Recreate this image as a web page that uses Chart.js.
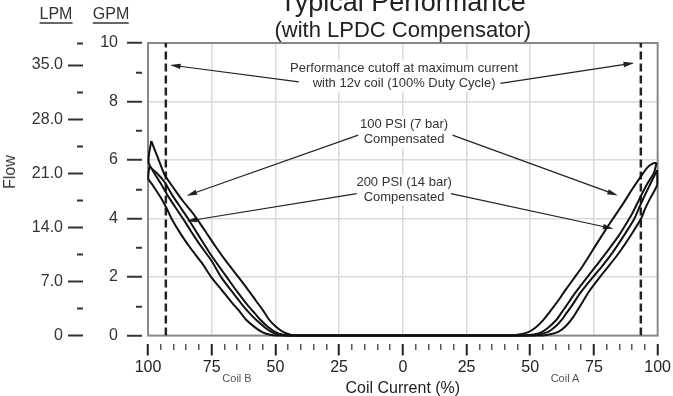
<!DOCTYPE html>
<html>
<head>
<meta charset="utf-8">
<script src="https://cdn.jsdelivr.net/npm/chart.js@4.4.1/dist/chart.umd.min.js"></script>
<style>
  html, body { margin: 0; padding: 0; background: #fff; }
  #frame { position: relative; width: 673px; height: 396px; overflow: hidden; font-family: Arial, "Liberation Sans", Helvetica, sans-serif; }
  #plot { position: absolute; left: 0; top: -20px; width: 673px; height: 416px; }
  .lbl { position: absolute; color: #333; white-space: nowrap; transform: translateX(-50%); }
  .unit { font-size: 16px; top: 6px; line-height: 16px; border-bottom: 2px solid #666; }
  .coil { font-size: 11px; line-height: 12px; color: #555; top: 372px; }
  #flow { font-size: 16px; line-height: 16px; left: 10px; top: 172px; transform: translate(-50%, -50%) rotate(-90deg); }
</style>
</head>
<body>
<div id="frame">
  <div id="plot"><canvas id="chart"></canvas></div>
  <span class="lbl unit" style="left: 56px;">LPM</span>
  <span class="lbl unit" style="left: 111px;">GPM</span>
  <span class="lbl" id="flow">Flow</span>
  <span class="lbl coil" style="left: 237px;">Coil B</span>
  <span class="lbl coil" style="left: 565px;">Coil A</span>
</div>
<script>
// axis ticks
const gpmMajor = [0, 2, 4, 6, 8, 10];
const gpmMinor = [1, 3, 5, 7, 9];
const lpmMajor = [0, 7, 14, 21, 28, 35];
const lpmMinor = [3.5, 10.5, 17.5, 24.5, 31.5, 37.8];
const currentMajor = [-100, -75, -50, -25, 0, 25, 50, 75, 100];
const currentMinor = [];
for (let v = -95; v < 100; v += 5) {
    if (!currentMajor.includes(v)) currentMinor.push(v);
}
const LPM_PER_GPM = 3.7854;

// max current at 12v coil, 100% duty cycle
const cutoffCurrent = [-93, 93.4];

// Coil B side (left), [current %, GPM]
const coilB100Upper = [[-98.7, 6.65], [-96, 6.05], [-93.5, 5.5], [-90, 5.05], [-86.3, 4.6], [-83, 4.25], [-80.4, 3.94], [-77, 3.5], [-73.3, 3.02], [-69, 2.5], [-64.5, 2.0], [-60, 1.48], [-57.7, 1.2], [-55, 0.88], [-52.5, 0.55], [-50, 0.32], [-47, 0.13], [-44, 0.03], [-41, 0]];
const coilB100Lower = [[-98.7, 6.65], [-99.6, 6.2], [-99.7, 5.9], [-98, 5.62], [-95, 5.2], [-92, 4.75], [-89, 4.35], [-86.3, 4.0], [-83, 3.55], [-80, 3.15], [-75, 2.55], [-71.3, 2.0], [-67, 1.5], [-63, 1.05], [-60, 0.75], [-57.7, 0.55], [-54, 0.27], [-51, 0.1], [-48, 0.02], [-45, 0]];
const coilB200Upper = [[-99.5, 5.77], [-96.5, 5.55], [-93.5, 5.25], [-90.5, 4.8], [-87, 4.35], [-84.3, 4.0], [-80, 3.4], [-76, 2.85], [-72, 2.35], [-69.1, 2.0], [-65, 1.5], [-61, 1.05], [-58, 0.75], [-56, 0.55], [-53, 0.3], [-50, 0.12], [-47, 0.03], [-43, 0]];
const coilB200Lower = [[-99.5, 5.77], [-99.9, 5.37], [-98, 5.12], [-95, 4.72], [-92.5, 4.32], [-90.8, 4.0], [-87, 3.45], [-83, 2.95], [-79, 2.5], [-75.2, 2.0], [-71, 1.55], [-67, 1.12], [-64, 0.82], [-61.6, 0.55], [-58, 0.28], [-55, 0.11], [-52, 0.03], [-48, 0]];

// Coil A side (right)
const coilA100Upper = [[99.6, 5.9], [98, 5.88], [96, 5.75], [93.5, 5.45], [90, 5.0], [86, 4.45], [82.5, 4.0], [78, 3.4], [74, 2.85], [70, 2.3], [67.5, 2.0], [64, 1.58], [61, 1.2], [58, 0.85], [55, 0.52], [52, 0.27], [49, 0.11], [45, 0.03], [40, 0]];
const coilA100Lower = [[99.6, 5.9], [98.5, 5.55], [96, 5.2], [93, 4.7], [90.5, 4.25], [88.9, 4.0], [85, 3.45], [80, 2.85], [76, 2.4], [72.4, 2.0], [68, 1.5], [64, 1.0], [62, 0.75], [60.4, 0.55], [57, 0.27], [54, 0.1], [50, 0.02], [46, 0]];
const coilA200Upper = [[99.8, 5.65], [97.5, 5.25], [95, 4.8], [93, 4.42], [90.9, 4.0], [87, 3.45], [82, 2.8], [78, 2.35], [74.6, 2.0], [70, 1.5], [66, 0.98], [64, 0.74], [62.9, 0.6], [60, 0.32], [57, 0.13], [53, 0.03], [49, 0]];
const coilA200Lower = [[99.8, 5.65], [99.8, 5.15], [97, 4.68], [95, 4.32], [93.5, 4.0], [90, 3.5], [85, 2.85], [81, 2.4], [77.3, 2.0], [73, 1.5], [69.5, 1.0], [67, 0.65], [64, 0.33], [61, 0.13], [57, 0.03], [53, 0]];

// callouts (positions in data units)
const notes = [
    { lines: ['Performance cutoff at maximum current', 'with 12v coil (100% Duty Cycle)'], x: 0.5, y: [9.13, 8.62] },
    { lines: ['100 PSI (7 bar)', 'Compensated'], x: 0.5, y: [7.23, 6.70] },
    { lines: ['200 PSI (14 bar)', 'Compensated'], x: 0.5, y: [5.22, 4.72] }
];
const arrows = [
    { from: [-40.8, 8.67], to: [-91.4, 9.25] },
    { from: [38.3, 8.62], to: [90.8, 9.32] },
    { from: [-17.5, 6.85], to: [-84.9, 4.78] },
    { from: [19.5, 6.85], to: [84.4, 4.79] },
    { from: [-18.1, 4.85], to: [-84.9, 3.91] },
    { from: [18.9, 4.85], to: [82.7, 3.65] }
];

const FONT = 'Arial, "Liberation Sans", Helvetica, sans-serif';
Chart.defaults.font.family = FONT;
Chart.defaults.color = '#222';

const near = (a, list) => list.some(v => Math.abs(v - a) < 1e-6);
const joinSides = (left, right) => [...left, ...right.slice().reverse()].map(([x, y]) => ({ x, y }));
const setTicks = (major, minor) => (scale) => {
    scale.ticks = [...major, ...minor].sort((a, b) => a - b).map(v => ({ value: v }));
};

const curve = (label, pts) => ({
    label,
    data: pts,
    borderColor: '#111',
    borderWidth: 2,
    pointRadius: 0,
    tension: 0.2,
    fill: false,
    clip: false
});

const cutoffLine = (x) => ({
    label: 'cutoff',
    data: [{ x, y: 0 }, { x, y: 10 }],
    borderColor: '#222',
    borderWidth: 2.5,
    borderDash: [8, 4],
    pointRadius: 0,
    fill: false
});

// frame + callouts under the curves
const callouts = {
    id: 'callouts',
    beforeDatasetsDraw(chart) {
        const { ctx, chartArea: a, scales: { x, y } } = chart;
        ctx.save();
        ctx.strokeStyle = '#888';
        ctx.lineWidth = 2;
        ctx.strokeRect(a.left, a.top, a.right - a.left, a.bottom - a.top);

        ctx.font = '13px ' + FONT;
        ctx.textAlign = 'center';
        ctx.textBaseline = 'middle';
        notes.forEach(n => {
            const cx = x.getPixelForValue(n.x);
            n.lines.forEach((t, i) => {
                const cy = y.getPixelForValue(n.y[i]);
                const w = ctx.measureText(t).width;
                ctx.fillStyle = '#fff';
                ctx.fillRect(cx - w / 2 - 3, cy - 8, w + 6, 16);
                ctx.fillStyle = '#333';
                ctx.fillText(t, cx, cy);
            });
        });

        ctx.strokeStyle = '#222';
        ctx.fillStyle = '#222';
        ctx.lineWidth = 1.2;
        arrows.forEach(ar => {
            const x1 = x.getPixelForValue(ar.from[0]), y1 = y.getPixelForValue(ar.from[1]);
            const x2 = x.getPixelForValue(ar.to[0]), y2 = y.getPixelForValue(ar.to[1]);
            const ang = Math.atan2(y2 - y1, x2 - x1);
            const len = 11, spread = 0.25;
            ctx.beginPath();
            ctx.moveTo(x1, y1);
            ctx.lineTo(x2 - Math.cos(ang) * 6, y2 - Math.sin(ang) * 6);
            ctx.stroke();
            ctx.beginPath();
            ctx.moveTo(x2, y2);
            ctx.lineTo(x2 - len * Math.cos(ang - spread), y2 - len * Math.sin(ang - spread));
            ctx.lineTo(x2 - len * Math.cos(ang + spread), y2 - len * Math.sin(ang + spread));
            ctx.closePath();
            ctx.fill();
        });
        ctx.restore();
    }
};

new Chart(document.getElementById('chart'), {
    type: 'line',
    data: {
        datasets: [
            curve('100 PSI upper', joinSides(coilB100Upper, coilA100Upper)),
            curve('100 PSI lower', joinSides(coilB100Lower, coilA100Lower)),
            curve('200 PSI upper', joinSides(coilB200Upper, coilA200Upper)),
            curve('200 PSI lower', joinSides(coilB200Lower, coilA200Lower)),
            cutoffLine(cutoffCurrent[0]),
            cutoffLine(cutoffCurrent[1])
        ]
    },
    options: {
        responsive: true,
        maintainAspectRatio: false,
        animation: false,
        events: [],
        layout: { autoPadding: false, padding: { left: 0, right: 11, top: 0, bottom: -2 } },
        plugins: {
            legend: { display: false },
            tooltip: { enabled: false },
            title: {
                display: true,
                fullSize: false,
                text: 'Typical Performance',
                color: '#222',
                font: { size: 27, weight: 'normal', lineHeight: 0.9 },
                padding: { top: 11, bottom: 0 }
            },
            subtitle: {
                display: true,
                fullSize: false,
                text: '(with LPDC Compensator)',
                color: '#222',
                font: { size: 22, weight: 'normal', lineHeight: 1 },
                padding: { top: 4.5, bottom: 1.2 }
            }
        },
        scales: {
            x: {
                type: 'linear',
                min: -100,
                max: 100,
                afterBuildTicks: setTicks(currentMajor, currentMinor),
                border: { display: false },
                grid: {
                    tickLength: 20,
                    color: c => (near(c.tick.value, currentMajor) && Math.abs(c.tick.value) < 100) ? '#dadada' : 'rgba(0,0,0,0)',
                    lineWidth: 1.5,
                    tickColor: c => near(c.tick.value, currentMajor) ? '#222' : '#555',
                    tickWidth: c => near(c.tick.value, currentMajor) ? 2 : 1.5,
                    tickBorderDash: c => near(c.tick.value, currentMajor) ? [0, 8, 12, 100] : [0, 8, 6, 100]
                },
                ticks: {
                    autoSkip: false,
                    maxRotation: 0,
                    padding: 2,
                    color: '#222',
                    font: { size: 16 },
                    callback: v => near(v, currentMajor) ? String(Math.abs(v)) : ''
                },
                title: {
                    display: true,
                    text: 'Coil Current (%)',
                    color: '#222',
                    font: { size: 16 },
                    padding: { top: 0, bottom: 0 }
                }
            },
            y: {
                type: 'linear',
                position: 'left',
                weight: 0,
                min: 0,
                max: 10,
                afterBuildTicks: setTicks(gpmMajor, gpmMinor),
                afterFit: s => { s.width = 62; },
                border: { display: false },
                grid: {
                    tickLength: 21,
                    color: c => (near(c.tick.value, gpmMajor) && c.tick.value > 0 && c.tick.value < 10) ? '#dadada' : 'rgba(0,0,0,0)',
                    lineWidth: 1.5,
                    tickColor: '#333',
                    tickWidth: 2,
                    tickBorderDash: c => near(c.tick.value, gpmMajor) ? [15, 100] : [0, 9, 6, 100]
                },
                ticks: {
                    autoSkip: false,
                    padding: 9,
                    color: '#333',
                    font: { size: 16 },
                    callback: v => near(v, gpmMajor) ? String(v) : ''
                }
            },
            lpm: {
                type: 'linear',
                position: 'left',
                weight: 1,
                min: 0,
                max: 10 * LPM_PER_GPM,
                afterBuildTicks: setTicks(lpmMajor, lpmMinor),
                afterFit: s => { s.width = 86; },
                border: { display: false },
                grid: {
                    drawOnChartArea: false,
                    tickLength: 18,
                    tickColor: '#333',
                    tickWidth: 2,
                    tickBorderDash: c => near(c.tick.value, lpmMajor) ? [15, 100] : [0, 9, 6, 100]
                },
                ticks: {
                    autoSkip: false,
                    padding: 5,
                    color: '#333',
                    font: { size: 16 },
                    callback: v => near(v, lpmMajor) ? (v === 0 ? '0' : v.toFixed(1)) : ''
                }
            }
        }
    },
    plugins: [callouts]
});
</script>
</body>
</html>
